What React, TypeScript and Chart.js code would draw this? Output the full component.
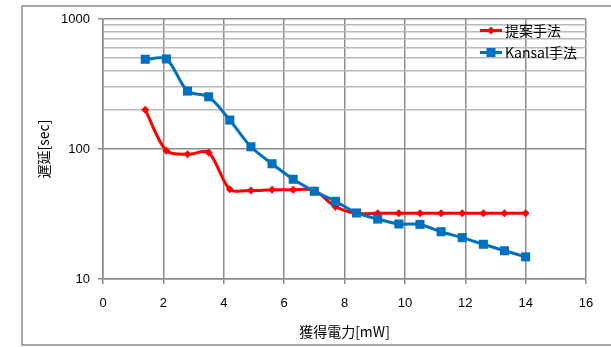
import React, { useEffect, useRef } from 'react';
import { Chart, registerables } from 'chart.js';

Chart.register(...registerables);

const powerMW = [1.4, 2.1, 2.8, 3.5, 4.2, 4.9, 5.6, 6.3, 7.0, 7.7, 8.4, 9.1, 9.8, 10.5, 11.2, 11.9, 12.6, 13.3, 14.0];
const proposedDelay = [200, 97, 91, 94, 49, 48, 48.5, 48.5, 48, 36, 32, 32, 32, 32, 32, 32, 32, 32, 32];
const kansalDelay = [490, 493, 279, 252, 167, 104, 77, 58.5, 47.3, 39.6, 32.2, 28.9, 26.5, 26.3, 23.1, 20.8, 18.5, 16.5, 14.8];
const seriesNames = ['提案手法', 'Kansal手法'];
const seriesColors = ['#FF0000', '#0070C0'];
const yMajorTicks = [10, 100, 1000];
const yMinorTicks = [200, 300, 400, 500, 600, 700, 800, 900];
const xTitle = '獲得電力[mW]';
const yTitle = '遅延[sec]';

const TICK_FONT = "'Liberation Sans', Arial, sans-serif";
const JP_FONT = "'Noto Sans CJK JP', 'Liberation Sans', sans-serif";

const framePlugin = {
  id: 'frameAndLegend',
  beforeDraw(chart: any) {
    const ctx = chart.ctx;
    ctx.save();
    ctx.strokeStyle = '#8c8c8c';
    ctx.lineWidth = 1.5;
    ctx.strokeRect(22, 6, 700, 339);
    ctx.restore();
  },
  afterDraw(chart: any) {
    const ctx = chart.ctx;
    ctx.save();
    const rows = [30.5, 52.5];
    rows.forEach((y, i) => {
      ctx.strokeStyle = seriesColors[i];
      ctx.fillStyle = seriesColors[i];
      ctx.lineWidth = 3;
      ctx.beginPath();
      ctx.moveTo(480, y);
      ctx.lineTo(502, y);
      ctx.stroke();
      ctx.beginPath();
      if (i === 0) {
        const r = 4;
        ctx.moveTo(491, y - r);
        ctx.lineTo(491 + r, y);
        ctx.lineTo(491, y + r);
        ctx.lineTo(491 - r, y);
        ctx.closePath();
      } else {
        ctx.rect(491 - 4.5, y - 4.5, 9, 9);
      }
      ctx.fill();
      ctx.fillStyle = '#000';
      ctx.font = `14px ${JP_FONT}`;
      ctx.textBaseline = 'middle';
      ctx.textAlign = 'left';
      ctx.fillText(seriesNames[i], 505, y);
    });
    ctx.restore();
  },
};

export default function App() {
  const ref = useRef<HTMLCanvasElement>(null);
  useEffect(() => {
    if (!ref.current) return;
    const isMajor = (v: number) => yMajorTicks.includes(v);
    const chart = new Chart(ref.current, {
      type: 'line',
      data: {
        datasets: [
          {
            label: seriesNames[0],
            data: powerMW.map((x, i) => ({ x, y: proposedDelay[i] })),
            borderColor: seriesColors[0],
            backgroundColor: seriesColors[0],
            borderWidth: 3,
            pointStyle: 'rectRot',
            pointRadius: 4,
            pointBorderWidth: 0,
            tension: 0.3,
            order: 1,
          },
          {
            label: seriesNames[1],
            data: powerMW.map((x, i) => ({ x, y: kansalDelay[i] })),
            borderColor: seriesColors[1],
            backgroundColor: seriesColors[1],
            borderWidth: 3,
            pointStyle: 'rect',
            pointRadius: 6.4,
            pointBorderWidth: 0,
            tension: 0.3,
            order: 0,
          },
        ],
      },
      options: {
        animation: false,
        responsive: false,
        maintainAspectRatio: false,
        layout: { padding: { left: 0, top: 19, right: 25, bottom: 0 } },
        plugins: { legend: { display: false }, tooltip: { enabled: false } },
        scales: {
          x: {
            type: 'linear',
            min: 0,
            max: 16,
            ticks: { stepSize: 2, color: '#000', font: { family: TICK_FONT, size: 13 }, padding: 12, maxRotation: 0 },
            grid: { color: '#8c8c8c', lineWidth: 1.5, tickLength: 5, tickColor: '#8c8c8c' },
            border: { color: '#8c8c8c', width: 1.5 },
            title: { display: true, text: xTitle, color: '#000', font: { family: JP_FONT, size: 14 }, padding: { top: 0, bottom: 7 } },
            afterFit(scale: any) { scale.height = 68; },
          },
          y: {
            type: 'logarithmic',
            min: 10,
            max: 1000,
            afterBuildTicks(scale: any) {
              scale.ticks = [...yMajorTicks, ...yMinorTicks].sort((a, b) => a - b).map((v) => ({ value: v, major: isMajor(v) }));
            },
            ticks: {
              color: '#000',
              font: { family: TICK_FONT, size: 13 },
              padding: 8,
              callback: (v: any) => (isMajor(Number(v)) ? String(v) : ''),
            },
            grid: {
              color: (c: any) => (isMajor(c.tick?.value) ? '#8c8c8c' : '#b8b8b8'),
              tickColor: (c: any) => (isMajor(c.tick?.value) ? '#8c8c8c' : 'rgba(0,0,0,0)'),
              lineWidth: 1.5,
              tickLength: 5,
            },
            border: { color: '#8c8c8c', width: 1.5 },
            title: { display: true, text: yTitle, color: '#000', font: { family: JP_FONT, size: 14 }, padding: { top: 35, bottom: 0 } },
            afterFit(scale: any) { scale.width = 103; },
          },
        },
      },
      plugins: [framePlugin],
    } as any);
    return () => chart.destroy();
  }, []);
  return (
    <div style={{ position: 'fixed', left: 0, top: 0, width: 611, height: 347, background: '#fff' }}>
      <canvas ref={ref} width={611} height={347} style={{ display: 'block' }} />
    </div>
  );
}
